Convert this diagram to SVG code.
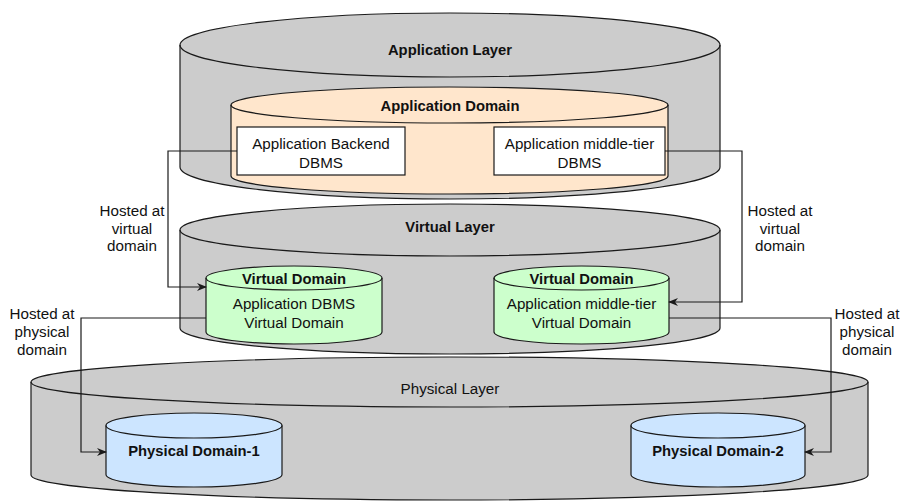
<svg xmlns="http://www.w3.org/2000/svg" width="900" height="503" viewBox="0 0 900 503">
  <style>
    .cyl { stroke: #1a1a1a; stroke-width: 1.2; }
    .rim { fill: none; stroke: #1a1a1a; stroke-width: 1.2; }
    .gray { fill: #cccccc; }
    .peach { fill: #ffe6cc; }
    .green { fill: #ccffcc; }
    .blue { fill: #cce5ff; }
    .box { fill: #ffffff; stroke: #1a1a1a; stroke-width: 1.2; }
    text { font-family: "Liberation Sans", Arial, sans-serif; font-size: 15.2px; fill: #111111; text-anchor: middle; dominant-baseline: central; }
    .b { font-weight: bold; font-size: 14.8px; }
    .edge { fill: none; stroke: #1a1a1a; stroke-width: 1.2; }
  </style>
  <defs>
    <marker id="arrow" viewBox="0 0 10 10" refX="9" refY="5" markerWidth="10" markerHeight="10" markerUnits="userSpaceOnUse" orient="auto">
      <path d="M0,1 L10,5 L0,9 L3,5 Z" fill="#1a1a1a"/>
    </marker>
  </defs>

  <!-- Application layer -->
  <g id="application-layer">
    <path class="cyl gray" d="M180,45 L180,167 A270,32 0 0 0 720,167 L720,45 A270,32 0 0 0 180,45 Z"/>
    <path class="rim" d="M180,45 A270,32 0 0 0 720,45"/>
    <text class="b" x="450" y="50">Application Layer</text>
  </g>

  <g id="application-domain">
    <path class="cyl peach" d="M231,105 L231,176 A218.5,18 0 0 0 668,176 L668,105 A218.5,18 0 0 0 231,105 Z"/>
    <path class="rim" d="M231,105 A218.5,18 0 0 0 668,105"/>
    <text class="b" x="450" y="106">Application Domain</text>
  </g>

  <g id="app-backend-dbms">
    <rect class="box" x="237" y="127" width="168" height="48"/>
    <text x="321" y="143">Application Backend</text>
    <text x="321" y="162">DBMS</text>
  </g>

  <g id="app-middle-tier-dbms">
    <rect class="box" x="494" y="127" width="171" height="48"/>
    <text x="579.5" y="143">Application middle-tier</text>
    <text x="579.5" y="162">DBMS</text>
  </g>

  <!-- Virtual layer -->
  <g id="virtual-layer">
    <path class="cyl gray" d="M180,230 L180,328 A270,26 0 0 0 720,328 L720,230 A270,26 0 0 0 180,230 Z"/>
    <path class="rim" d="M180,230 A270,26 0 0 0 720,230"/>
    <text class="b" x="450" y="227">Virtual Layer</text>
  </g>

  <g id="virtual-domain-1">
    <path class="cyl green" d="M206,278 L206,332 A88,12 0 0 0 382,332 L382,278 A88,12 0 0 0 206,278 Z"/>
    <path class="rim" d="M206,278 A88,12 0 0 0 382,278"/>
    <text class="b" x="294" y="279">Virtual Domain</text>
    <text x="294" y="303">Application DBMS</text>
    <text x="294" y="322">Virtual Domain</text>
  </g>

  <g id="virtual-domain-2">
    <path class="cyl green" d="M494,278 L494,332 A87.5,12 0 0 0 669,332 L669,278 A87.5,12 0 0 0 494,278 Z"/>
    <path class="rim" d="M494,278 A87.5,12 0 0 0 669,278"/>
    <text class="b" x="581.5" y="279">Virtual Domain</text>
    <text x="581.5" y="303">Application middle-tier</text>
    <text x="581.5" y="322">Virtual Domain</text>
  </g>

  <!-- Physical layer -->
  <g id="physical-layer">
    <path class="cyl gray" d="M31,382 L31,475 A418.5,25 0 0 0 868,475 L868,382 A418.5,25 0 0 0 31,382 Z"/>
    <path class="rim" d="M31,382 A418.5,25 0 0 0 868,382"/>
    <text x="450" y="388">Physical Layer</text>
  </g>

  <g id="physical-domain-1">
    <path class="cyl blue" d="M106,425.5 L106,474.5 A88,12.5 0 0 0 282,474.5 L282,425.5 A88,12.5 0 0 0 106,425.5 Z"/>
    <path class="rim" d="M106,425.5 A88,12.5 0 0 0 282,425.5"/>
    <text class="b" x="194" y="451">Physical Domain-1</text>
  </g>

  <g id="physical-domain-2">
    <path class="cyl blue" d="M631,425.5 L631,474.5 A87,12.5 0 0 0 805,474.5 L805,425.5 A87,12.5 0 0 0 631,425.5 Z"/>
    <path class="rim" d="M631,425.5 A87,12.5 0 0 0 805,425.5"/>
    <text class="b" x="718" y="451">Physical Domain-2</text>
  </g>

  <!-- Hosting relations -->
  <g id="connectors">
    <path class="edge" marker-end="url(#arrow)" d="M237,151 H168 V287 H206"/>
    <path class="edge" marker-end="url(#arrow)" d="M665,151 H742 V302 H669"/>
    <path class="edge" marker-end="url(#arrow)" d="M206,318 H81 V452 H106"/>
    <path class="edge" marker-end="url(#arrow)" d="M669,318 H831 V452 H805"/>
    <text x="132" y="210">Hosted at</text>
    <text x="132" y="228">virtual</text>
    <text x="132" y="245">domain</text>
    <text x="780" y="210">Hosted at</text>
    <text x="780" y="228">virtual</text>
    <text x="780" y="245">domain</text>
    <text x="42" y="313">Hosted at</text>
    <text x="42" y="331">physical</text>
    <text x="42" y="349">domain</text>
    <text x="867" y="313">Hosted at</text>
    <text x="867" y="331">physical</text>
    <text x="867" y="349">domain</text>
  </g>
</svg>
